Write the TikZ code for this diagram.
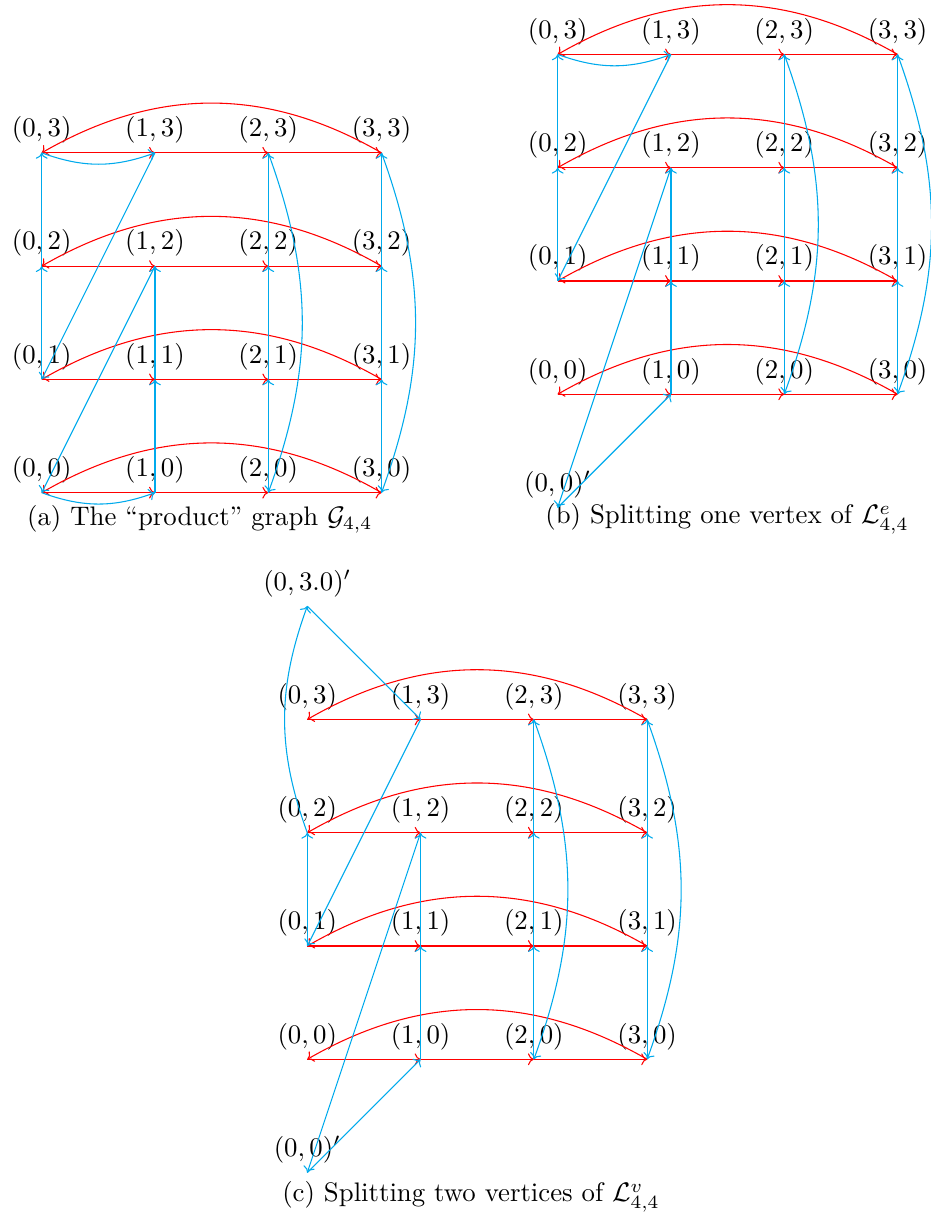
\documentclass[tikz,border=0pt]{standalone}
\usepackage{amsmath}
\usepackage{amssymb}
\usetikzlibrary{positioning, arrows.meta, calc}

\definecolor{rowred}{RGB}{255,0,0}
\definecolor{colblue}{RGB}{0,170,236}

\begin{document}
\begin{tikzpicture}[
    >={To[length=2.2pt, width=4.4pt]},
    hedge/.style={->, rowred},
    vedge/.style={->, colblue},
    capt/.style={align=center, font=\normalsize}
]
\useasboundingbox (0,0) rectangle (12.2,16.004);
\def\gs{1.486}

% ================= Nodes =================

% The three grids (a), (b), (c) of vertices (i,j)
\foreach \s/\x/\y in {a/0.547/9.541, b/7.316/10.832, c/4.031/2.108} {
    \foreach \i in {0,...,3} {
        \foreach \j in {0,...,3} {
            \coordinate[label=above:{$(\i,\j)$}] (\s\i\j) at ({\x+\i*\gs},{\y+\j*\gs});
        }
    }
}

% Split vertices
\coordinate[label=above:{$(0,0)'$}] (b00p) at (7.316, 9.346);
\coordinate[label=above:{$(0,0)'$}] (c00p) at (4.031, 0.622);
\coordinate[label=above:{$(0,3.0)'$}] (c03p) at (4.031, 8.052);

% ================= Captions =================

\node[capt] (capa) at (2.62, 9.196) {(a) The ``product'' graph $\mathcal{G}_{4,4}$};
\node[capt] (capb) at (9.537, 9.196) {(b) Splitting one vertex of $\mathcal{L}^e_{4,4}$};
\node[capt] (capc) at (6.179, 0.302) {(c) Splitting two vertices of $\mathcal{L}^v_{4,4}$};

% ================= Edges =================

% Rows: cycle (0,j) -> (1,j) -> (2,j) -> (3,j) -> (0,j)
\foreach \s in {a,b,c} {
    \foreach \j in {0,...,3} {
        \draw[hedge] (\s0\j) -- (\s1\j);
        \draw[hedge] (\s1\j) -- (\s2\j);
        \draw[hedge] (\s2\j) -- (\s3\j);
        \draw[hedge] (\s3\j) to[bend right] (\s0\j);
    }
}

% Columns shared by all three pictures
\foreach \s in {a,b,c} {
    \draw[vedge] (\s01) -- (\s02);
    \draw[vedge] (\s13) -- (\s01);
    \draw[vedge] (\s10) -- (\s11);
    \draw[vedge] (\s11) -- (\s12);
    \foreach \i in {2,3} {
        \draw[vedge] (\s\i0) -- (\s\i1);
        \draw[vedge] (\s\i1) -- (\s\i2);
        \draw[vedge] (\s\i2) -- (\s\i3);
        \draw[vedge] (\s\i3) to[bend left=20] (\s\i0);
    }
}

% (a) and (b): vertex (0,3) not split
\foreach \s in {a,b} {
    \draw[vedge] (\s02) -- (\s03);
    \draw[vedge] (\s03) to[bend right=20] (\s13);
}

% (a): vertex (0,0) not split
\draw[vedge] (a12) -- (a00);
\draw[vedge] (a00) to[bend right=20] (a10);

% (b) and (c): (0,0) split off into (0,0)'
\draw[vedge] (b12) -- (b00p);
\draw[vedge] (b00p) -- (b10);
\draw[vedge] (c12) -- (c00p);
\draw[vedge] (c00p) -- (c10);

% (c): (0,3) split off into (0,3.0)'
\draw[vedge] (c02) to[bend left=20] (c03p);
\draw[vedge] (c03p) -- (c13);

\end{tikzpicture}
\end{document}
